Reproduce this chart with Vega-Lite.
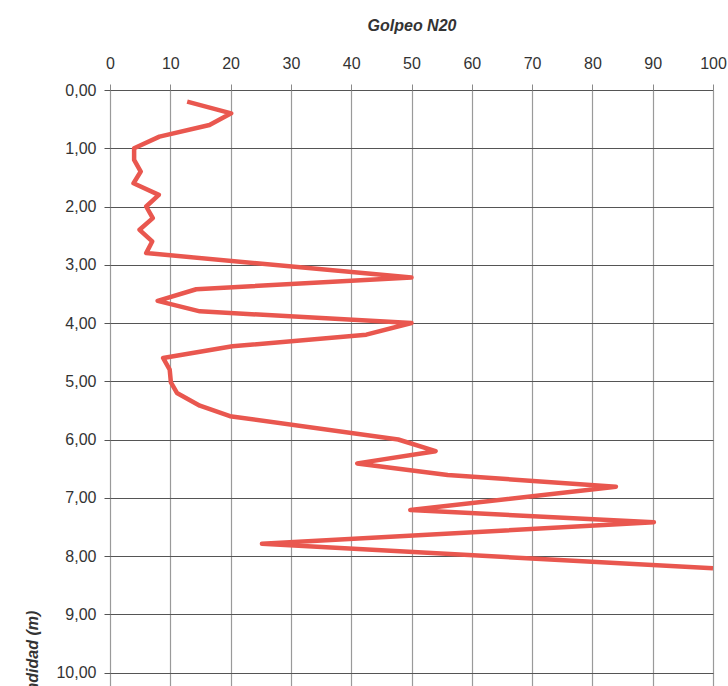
{
  "$schema": "https://vega.github.io/schema/vega-lite/v6.json",
  "autosize": {"type": "none"},
  "width": 603,
  "height": 600,
  "padding": {"left": 110, "top": 90, "right": 15, "bottom": 0},
  "background": "white",
  "config": {
    "view": {"stroke": null},
    "axis": {
      "labelFont": "Liberation Sans, Arial, sans-serif",
      "titleFont": "Liberation Sans, Arial, sans-serif",
      "labelColor": "#333",
      "titleColor": "#333"
    }
  },
  "data": {
    "values": [
      {"prof": 0.2, "golpeo": 12.8},
      {"prof": 0.4, "golpeo": 20.1},
      {"prof": 0.6, "golpeo": 16.5},
      {"prof": 0.8, "golpeo": 8.2},
      {"prof": 1.0, "golpeo": 4},
      {"prof": 1.2, "golpeo": 4},
      {"prof": 1.4, "golpeo": 5.1},
      {"prof": 1.6, "golpeo": 3.9},
      {"prof": 1.8, "golpeo": 8.1},
      {"prof": 2.0, "golpeo": 6},
      {"prof": 2.2, "golpeo": 7.1},
      {"prof": 2.4, "golpeo": 4.9},
      {"prof": 2.6, "golpeo": 7},
      {"prof": 2.8, "golpeo": 6},
      {"prof": 3.22, "golpeo": 50},
      {"prof": 3.42, "golpeo": 14.3},
      {"prof": 3.62, "golpeo": 7.9},
      {"prof": 3.8, "golpeo": 14.9},
      {"prof": 4.0, "golpeo": 50},
      {"prof": 4.2, "golpeo": 42.5},
      {"prof": 4.4, "golpeo": 20.3},
      {"prof": 4.6, "golpeo": 8.8},
      {"prof": 4.8, "golpeo": 9.9},
      {"prof": 5.02, "golpeo": 10.1},
      {"prof": 5.2, "golpeo": 11.1},
      {"prof": 5.42, "golpeo": 14.9},
      {"prof": 5.6, "golpeo": 19.9},
      {"prof": 6.0, "golpeo": 47.8},
      {"prof": 6.2, "golpeo": 54},
      {"prof": 6.41, "golpeo": 41},
      {"prof": 6.61, "golpeo": 56},
      {"prof": 6.81, "golpeo": 83.9},
      {"prof": 7.21, "golpeo": 49.8},
      {"prof": 7.42, "golpeo": 90.2},
      {"prof": 7.79, "golpeo": 25.2},
      {"prof": 8.21, "golpeo": 100}
    ]
  },
  "mark": {"type": "line", "color": "#e9574f", "strokeWidth": 4.5, "clip": true, "strokeJoin": "round"},
  "encoding": {
    "x": {
      "field": "golpeo",
      "type": "quantitative",
      "scale": {"domain": [0, 100], "nice": false, "zero": false},
      "axis": {
        "orient": "top",
        "title": "Golpeo N20",
        "titleFontStyle": "italic",
        "titleFontWeight": "bold",
        "titleFontSize": 16,
        "titlePadding": 22,
        "values": [0, 10, 20, 30, 40, 50, 60, 70, 80, 90, 100],
        "labelFontSize": 16,
        "labelPadding": 13,
        "tickSize": 6,
        "tickColor": "#8a8a8a",
        "domain": false,
        "grid": true,
        "gridColor": "#9a9a9a",
        "gridWidth": 1.2,
        "gridOpacity": 1,
        "labelFlush": false
      }
    },
    "y": {
      "field": "prof",
      "type": "quantitative",
      "sort": null,
      "scale": {"domain": [0, 10.3], "reverse": true, "nice": false, "zero": false},
      "axis": {
        "title": "Profundidad (m)",
        "titleFontStyle": "italic",
        "titleFontWeight": "bold",
        "titleFontSize": 16,
        "titleX": -70,
        "titleY": 582,
        "titleAngle": -90,
        "titleAlign": "center",
        "values": [0, 1, 2, 3, 4, 5, 6, 7, 8, 9, 10],
        "labelExpr": "replace(format(datum.value, '.2f'), '.', ',')",
        "labelFontSize": 16,
        "labelPadding": 8,
        "tickSize": 6,
        "tickColor": "#555",
        "domain": false,
        "grid": true,
        "gridColor": "#555",
        "gridWidth": 1.2,
        "gridOpacity": 1,
        "labelFlush": false
      }
    },
    "order": {"field": "prof", "type": "quantitative"}
  }
}
